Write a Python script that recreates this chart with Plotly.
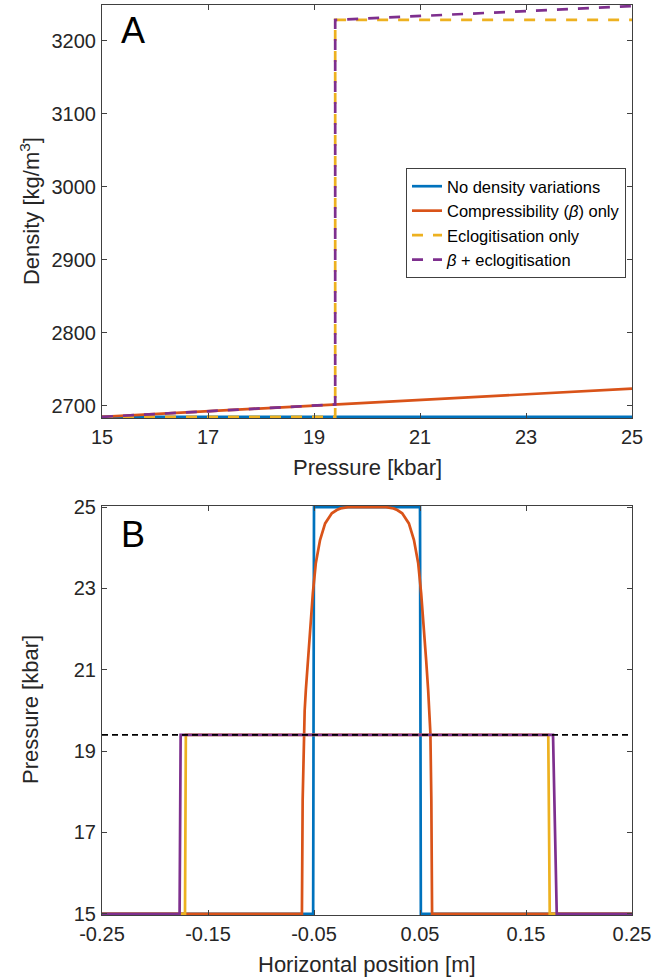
import plotly.graph_objects as go

# ---------------- Panel A data ----------------
pressure_a_blue = [15, 25]
density_blue = [2685, 2685]

pressure_a_orange = [15, 25]
density_orange = [2685, 2723.6]

pressure_a_yellow = [15, 19.4, 19.4, 25]
density_yellow = [2685, 2685, 3228.5, 3228.5]

pressure_a_purple = [15, 19.4, 19.4, 25]
density_purple = [2685, 2702, 3228.5, 3247.5]

# ---------------- Panel B data ----------------
xpos_blue = [-0.25, -0.0508, -0.0500, 0.0500, 0.0508, 0.25]
pres_blue = [15, 15, 25, 25, 15, 15]

xpos_orange = [-0.25, -0.0614, -0.0607, -0.0598, -0.0588, -0.0577, -0.0558, -0.0537,
               -0.0511, -0.0483, -0.0443, -0.0395, -0.0332, -0.0285, -0.0250, -0.0180,
               0.0180, 0.0250, 0.0285, 0.0332, 0.0395, 0.0443, 0.0483, 0.0511, 0.0537,
               0.0558, 0.0577, 0.0588, 0.0598, 0.0607, 0.0614, 0.25]
pres_orange = [15, 15, 17.8, 19.44, 20.0, 20.5, 21.24, 22.06,
               22.88, 23.62, 24.19, 24.6, 24.85, 24.93, 24.97, 25.0,
               25.0, 24.97, 24.93, 24.85, 24.6, 24.19, 23.62, 22.88, 22.06,
               21.24, 20.5, 20.0, 19.44, 17.8, 15, 15]

xpos_yellow = [-0.25, -0.1717, -0.1709, 0.1710, 0.1724, 0.25]
pres_yellow = [15, 15, 19.4, 19.4, 15, 15]

xpos_purple = [-0.25, -0.1768, -0.1758, 0.1755, 0.1790, 0.25]
pres_purple = [15, 15, 19.4, 19.4, 15, 15]

threshold_x = [-0.25, 0.25]
threshold_p = [19.4, 19.4]

# ---------------- Ticks / labels ----------------
a_xticks = [15, 17, 19, 21, 23, 25]
a_yticks = [2700, 2800, 2900, 3000, 3100, 3200]
b_xticks = [-0.25, -0.15, -0.05, 0.05, 0.15, 0.25]
b_xticklabels = ["-0.25", "-0.15", "-0.05", "0.05", "0.15", "0.25"]
b_yticks = [15, 17, 19, 21, 23, 25]

names = ["No density variations", "Compressibility (<i>β</i>) only",
         "Eclogitisation only", "<i>β</i> + eclogitisation"]
colors = ["#0072BD", "#D95319", "#EDB120", "#7E2F8E"]

FONT = "Liberation Sans, Arial, Helvetica, sans-serif"
TXT = "#262626"
LW = 2.7
DASH = "11px,10px"

fig = go.Figure()

# Panel A
fig.add_trace(go.Scatter(x=pressure_a_blue, y=density_blue, mode="lines", name=names[0],
                         line=dict(color=colors[0], width=LW), xaxis="x", yaxis="y"))
fig.add_trace(go.Scatter(x=pressure_a_orange, y=density_orange, mode="lines", name=names[1],
                         line=dict(color=colors[1], width=LW), xaxis="x", yaxis="y"))
fig.add_trace(go.Scatter(x=pressure_a_yellow, y=density_yellow, mode="lines", name=names[2],
                         line=dict(color=colors[2], width=LW, dash=DASH), xaxis="x", yaxis="y"))
fig.add_trace(go.Scatter(x=pressure_a_purple, y=density_purple, mode="lines", name=names[3],
                         line=dict(color=colors[3], width=LW, dash=DASH), xaxis="x", yaxis="y"))

# Panel B
for xs, ps, c in [(xpos_blue, pres_blue, colors[0]), (xpos_orange, pres_orange, colors[1]),
                  (xpos_yellow, pres_yellow, colors[2]), (xpos_purple, pres_purple, colors[3])]:
    fig.add_trace(go.Scatter(x=xs, y=ps, mode="lines", showlegend=False,
                             line=dict(color=c, width=LW), xaxis="x2", yaxis="y2"))
fig.add_trace(go.Scatter(x=threshold_x, y=threshold_p, mode="lines", showlegend=False,
                         line=dict(color="#000000", width=1.8, dash="6px,4px"),
                         xaxis="x2", yaxis="y2"))

axis_common = dict(showgrid=False, zeroline=False, showline=True, linecolor="#404040",
                   linewidth=1, mirror="ticks", ticks="inside", ticklen=5,
                   tickcolor="#404040", tickwidth=1, automargin=False,
                   tickfont=dict(family=FONT, size=20, color=TXT))

fig.update_layout(
    width=655, height=977,
    margin=dict(l=102, r=23, t=5, b=62, autoexpand=False),
    paper_bgcolor="white", plot_bgcolor="white",
    font=dict(family=FONT, color=TXT),
    xaxis=dict(domain=[0, 1], range=[15, 25], tickvals=a_xticks, anchor="y",
               ticklabelstandoff=1, **axis_common),
    yaxis=dict(domain=[0.5462, 1.0], range=[2683.5, 3249], tickvals=a_yticks,
               ticktext=[str(v) for v in a_yticks], anchor="x",
               ticklabelstandoff=1, **axis_common),
    xaxis2=dict(domain=[0, 1], range=[-0.25, 0.25], tickvals=b_xticks,
                ticktext=b_xticklabels, anchor="y2", ticklabelstandoff=1, **axis_common),
    yaxis2=dict(domain=[0, 0.4495], range=[14.97, 25.03], tickvals=b_yticks, anchor="x2",
                ticklabelstandoff=1, **axis_common),
    legend=dict(x=0.9887, xanchor="right", y=0.8209, yanchor="top",
                bgcolor="white", bordercolor="#404040", borderwidth=1,
                font=dict(family=FONT, size=16.5, color="#000000"),
                tracegroupgap=0, itemwidth=30),
    showlegend=True,
)

annotations = [
    dict(text="A", x=0.032, y=0.9725, xref="paper", yref="paper", xanchor="left",
         yanchor="middle", showarrow=False, font=dict(family=FONT, size=36, color="#000000")),
    dict(text="B", x=0.032, y=0.4176, xref="paper", yref="paper", xanchor="left",
         yanchor="middle", showarrow=False, font=dict(family=FONT, size=36, color="#000000")),
    dict(text="Density [kg/m<sup>3</sup>]", x=-0.1358, y=(915 - 211) / 910, xref="paper",
         yref="paper", xanchor="center", yanchor="middle", textangle=-90, showarrow=False,
         font=dict(family=FONT, size=22, color=TXT)),
    dict(text="Pressure [kbar]", x=-0.1358, y=(915 - 710) / 910, xref="paper",
         yref="paper", xanchor="center", yanchor="middle", textangle=-90, showarrow=False,
         font=dict(family=FONT, size=22, color=TXT)),
    dict(text="Pressure [kbar]", x=0.5, y=0.4923, xref="paper",
         yref="paper", xanchor="center", yanchor="middle", showarrow=False,
         font=dict(family=FONT, size=22, color=TXT)),
    dict(text="Horizontal position [m]", x=0.5, y=(915 - 964) / 910, xref="paper",
         yref="paper", xanchor="center", yanchor="middle", showarrow=False,
         font=dict(family=FONT, size=22, color=TXT)),
]
fig.update_layout(annotations=annotations)

post = (
    "document.documentElement.style.margin='0';"
    "document.documentElement.style.padding='0';"
    "document.body.style.margin='0';document.body.style.padding='0';"
    "document.body.style.overflow='hidden';"
    "var gd=document.getElementById('{plot_id}');"
    "gd.style.position='absolute';gd.style.left='0px';gd.style.top='0px';"
)

fig.write_html("out.html", config={"displayModeBar": False}, post_script=post)
